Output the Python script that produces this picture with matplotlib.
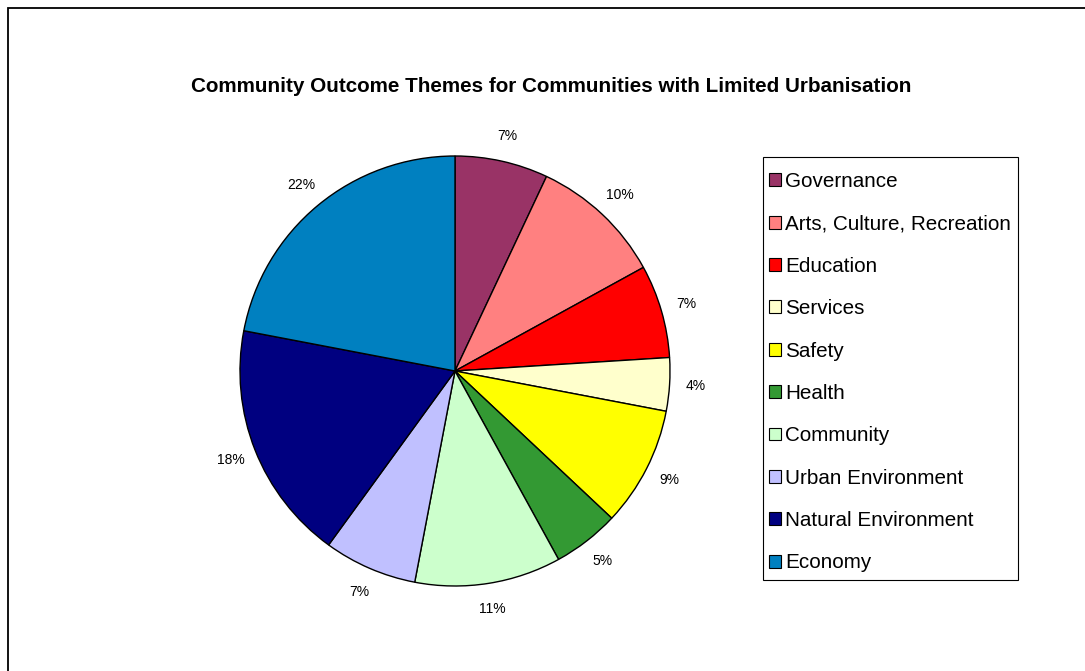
import matplotlib.pyplot as plt
from matplotlib.patches import Rectangle

plt.rcParams['font.family'] = ['Liberation Sans', 'DejaVu Sans']

# Anteile der Themen (in Prozent)
themes = ["Governance", "Arts, Culture, Recreation", "Education", "Services",
          "Safety", "Health", "Community", "Urban Environment",
          "Natural Environment", "Economy"]
shares = [7, 10, 7, 4, 9, 5, 11, 7, 18, 22]
colors = ["#993366", "#FF8080", "#FF0000", "#FFFFCC", "#FFFF00",
          "#339933", "#CCFFCC", "#C0C0FF", "#000080", "#0080C0"]

fig = plt.figure(figsize=(10.85, 6.71), dpi=100)
W, H = 1085, 671

# Rahmen um den Diagrammbereich
fig.add_artist(Rectangle((8 / W, -0.05), 1.2, (671 - 8) / H + 0.05,
                         transform=fig.transFigure, fill=False,
                         edgecolor="black", linewidth=1.3))

# Kreisdiagramm
ax = fig.add_axes([(455 - 215) / W, (671 - 371 - 215) / H, 430 / W, 430 / H])
wedges, texts = ax.pie(shares, colors=colors, startangle=90, counterclock=False,
                       labels=[f"{s}%" for s in shares], labeldistance=1.12,
                       wedgeprops=dict(edgecolor="black", linewidth=1.0),
                       textprops=dict(fontsize=10))
for t in texts:
    t.set_horizontalalignment("center")
    t.set_verticalalignment("center")
    t.set_clip_on(False)
ax.set_xlim(-1, 1)
ax.set_ylim(-1, 1)
ax.set_aspect("equal")

fig.text(551 / W, 1 - 87 / H, "Community Outcome Themes for Communities with Limited Urbanisation",
         ha="center", va="center", fontsize=14.9, fontweight="bold")

# Legendenrahmen separat, damit die Abstände frei einstellbar sind
fig.add_artist(Rectangle((763 / W, 1 - 580 / H), 255 / W, 423 / H,
                         transform=fig.transFigure, fill=False,
                         edgecolor="black", linewidth=0.8))
leg = fig.legend(wedges, themes, loc="upper left",
                 bbox_to_anchor=(769 / W, 1 - 172 / H),
                 frameon=False, fontsize=14.9,
                 handlelength=0.58, handleheight=0.58, handletextpad=0.2,
                 labelspacing=1.13, borderpad=0, borderaxespad=0)
for h in leg.legend_handles:
    h.set_linewidth(0.8)

plt.savefig("out.png", dpi=100)
